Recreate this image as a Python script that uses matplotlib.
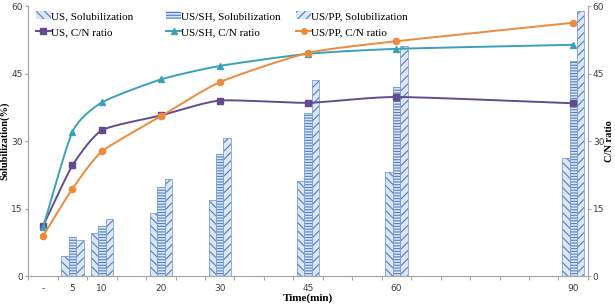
import numpy as np
import matplotlib.pyplot as plt

# categories on the time axis (one slot per 5 min, labels only on sampled times)
slot_labels = ['-', '5', '10', '', '20', '', '30', '', '', '45', '', '', '60', '', '', '', '', '', '90']
sample_labels = ['-', '5', '10', '20', '30', '45', '60', '90']
sample_slots = [0, 1, 2, 4, 6, 9, 12, 18]

# solubilization (%) bars
sol_us = [0, 4.4, 9.5, 14.0, 17.0, 21.1, 23.1, 26.3]
sol_sh = [0, 8.6, 11.2, 19.7, 27.1, 36.3, 42.0, 47.7]
sol_pp = [0, 8.1, 12.7, 21.5, 30.7, 43.6, 51.2, 58.8]

# C/N ratio lines
cn_us = [11.1, 24.6, 32.4, 35.7, 39.0, 38.5, 39.8, 38.4]
cn_sh = [10.8, 32.1, 38.6, 43.7, 46.7, 49.4, 50.5, 51.4]
cn_pp = [8.9, 19.4, 27.7, 35.5, 43.1, 49.6, 52.2, 56.3]


def smooth(x, y, n=30):
    # catmull-rom style curve through the points (like excel smoothed lines)
    x = np.asarray(x, float)
    y = np.asarray(y, float)
    px = np.concatenate([[2 * x[0] - x[1]], x, [2 * x[-1] - x[-2]]])
    py = np.concatenate([[2 * y[0] - y[1]], y, [2 * y[-1] - y[-2]]])
    xs, ys = [], []
    t = np.linspace(0, 1, n)
    for i in range(1, len(px) - 2):
        for arr, out in ((px, xs), (py, ys)):
            p0, p1, p2, p3 = arr[i - 1], arr[i], arr[i + 1], arr[i + 2]
            m1 = (p2 - p0) / 2 * 0.6
            m2 = (p3 - p1) / 2 * 0.6
            h00 = 2 * t**3 - 3 * t**2 + 1
            h10 = t**3 - 2 * t**2 + t
            h01 = -2 * t**3 + 3 * t**2
            h11 = t**3 - t**2
            out.extend(h00 * p1 + h10 * m1 + h01 * p2 + h11 * m2)
    return xs, ys


plt.rcParams['hatch.color'] = '#4f7fc4'
plt.rcParams['hatch.linewidth'] = 0.8

fig = plt.figure(figsize=(6.15, 3.05), dpi=100)
ax = fig.add_axes([0.046, 0.095, 0.910, 0.885])
ax2 = ax.twinx()

grey = '#a6a6a6'
serif = 'Liberation Serif'

x = np.array(sample_slots, float)
w = 0.25
bar_face = '#dce6f4'
bar_edge = '#7fa3d6'
b1 = ax.bar(x[1:] - w, sol_us[1:], w, color=bar_face, edgecolor='#4f7fc4', hatch='\\\\\\\\', lw=0)
b2 = ax.bar(x[1:], sol_sh[1:], w, color=bar_face, edgecolor='#4f7fc4', hatch='------', lw=0)
b3 = ax.bar(x[1:] + w, sol_pp[1:], w, color=bar_face, edgecolor='#4f7fc4', hatch='////', lw=0)
for bars in (b1, b2, b3):
    for b in bars:
        ax.add_patch(plt.Rectangle((b.get_x(), 0), b.get_width(), b.get_height(),
                                   fill=False, edgecolor=bar_edge, lw=0.6))

c_us = '#634c8e'
c_sh = '#3aa1b6'
c_pp = '#ee8a3c'
lines = []
for vals, col, mk, ms, lab in ((cn_us, c_us, 's', 4.5, 'US, C/N ratio'),
                               (cn_sh, c_sh, '^', 4.5, 'US/SH, C/N ratio'),
                               (cn_pp, c_pp, 'o', 4.5, 'US/PP, C/N ratio')):
    sx, sy = smooth(x, vals)
    ax2.plot(sx, sy, color=col, lw=1.4)
    ax2.plot(x, vals, ls='none', marker=mk, ms=ms, color=col)
    lines.append(plt.Line2D([], [], color=col, lw=1.4, marker=mk, ms=4, label=lab))

for a in (ax, ax2):
    a.set_ylim(0, 60)
    a.set_yticks([0, 15, 30, 45, 60])
    a.tick_params(axis='y', labelsize=6.5, colors='#404040', length=2, width=0.8, pad=2)
    a.spines['top'].set_visible(False)
    for s in ('left', 'right', 'bottom'):
        a.spines[s].set_color(grey)
        a.spines[s].set_linewidth(0.8)
ax.tick_params(axis='y', color=grey)
ax2.tick_params(axis='y', color=grey, pad=1.5)

ax.set_xlim(-0.5, len(slot_labels) - 0.5)
ax.set_xticks(sample_slots)
ax.set_xticklabels(sample_labels, fontsize=6.5, color='#404040')
ax.set_xticks(np.arange(-0.5, len(slot_labels), 1), minor=True)
ax.tick_params(axis='x', which='major', length=0, pad=6)
ax.tick_params(axis='x', which='minor', length=3, color=grey, width=0.8)

ax.set_xlabel('Time(min)', fontsize=8, fontweight='bold', family=serif, va='center')
ax.xaxis.set_label_coords(0.5, -0.081)
ax.set_ylabel('Solubilization(%)', fontsize=7.5, fontweight='bold', family=serif, va='center')
ax.yaxis.set_label_coords(-0.0416, 0.5)
ax2.set_ylabel('C/N ratio', fontsize=7.5, fontweight='bold', family=serif, va='center', rotation=90)
ax2.yaxis.set_label_coords(1.0385, 0.5)

b1.set_label('US, Solubilization')
b2.set_label('US/SH, Solubilization')
b3.set_label('US/PP, Solubilization')
# one legend per column so the columns sit at even spacing
columns = [(b1, lines[0]), (b2, lines[1]), (b3, lines[2])]
col_x = [0.0, 0.233, 0.465]
for i, (hb, hl) in enumerate(columns):
    leg = ax2.legend(handles=[hb, hl], loc='upper left', bbox_to_anchor=(col_x[i], 1.01),
                     frameon=False, prop={'family': serif, 'size': 8},
                     handlelength=1.3, handletextpad=0.0, labelspacing=0.55,
                     borderaxespad=0.3)
    if i < 2:
        ax2.add_artist(leg)

fig.savefig('out.png', dpi=100)
